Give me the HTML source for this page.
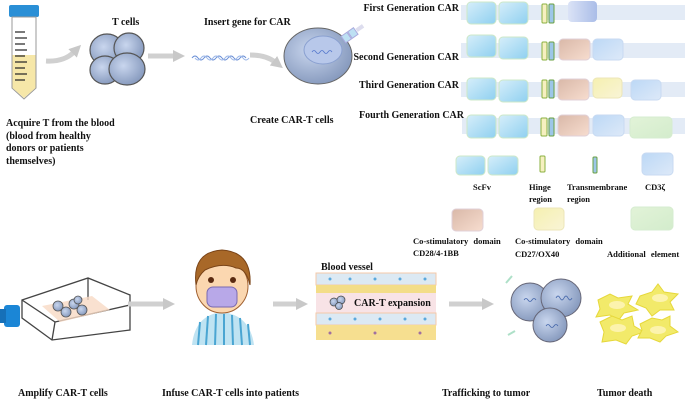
<!DOCTYPE html>
<html><head><meta charset="utf-8">
<style>
html,body{margin:0;padding:0;background:#fff;}
svg{display:block;}
text{font-family:"Liberation Serif",serif;font-weight:bold;fill:#111;font-size:10px;}
</style></head>
<body>
<svg width="685" height="400" viewBox="0 0 685 400" xmlns="http://www.w3.org/2000/svg">
<defs>
<linearGradient id="scfv" x1="0" y1="0" x2="1" y2="1"><stop offset="0" stop-color="#d6eefa"/><stop offset="1" stop-color="#8fd0f0"/></linearGradient>
<linearGradient id="brown" x1="0" y1="0" x2="1" y2="1"><stop offset="0" stop-color="#d9b8a8"/><stop offset="1" stop-color="#f7ddcf"/></linearGradient>
<linearGradient id="blue2" x1="0" y1="0" x2="1" y2="1"><stop offset="0" stop-color="#bcd8f6"/><stop offset="1" stop-color="#dde9f8"/></linearGradient>
<linearGradient id="yel" x1="0" y1="0" x2="1" y2="1"><stop offset="0" stop-color="#f5f0b0"/><stop offset="1" stop-color="#f9f4d6"/></linearGradient>
<linearGradient id="grn" x1="0" y1="0" x2="1" y2="1"><stop offset="0" stop-color="#e2f3d8"/><stop offset="1" stop-color="#d3eccc"/></linearGradient>
<linearGradient id="purp" x1="0" y1="0" x2="1" y2="0"><stop offset="0" stop-color="#dbe3f6"/><stop offset="1" stop-color="#aabde8"/></linearGradient>
<radialGradient id="cell" cx="0.4" cy="0.4" r="0.7"><stop offset="0" stop-color="#c9d6ee"/><stop offset="1" stop-color="#7f93b8"/></radialGradient>
<marker id="ah" markerWidth="12" markerHeight="12" refX="2" refY="6" orient="auto" markerUnits="userSpaceOnUse"><path d="M0,0 L12,6 L0,12 z" fill="#c8c8c8"/></marker>
</defs>

<!-- Tube -->
<rect x="9" y="5" width="30" height="12" rx="2" fill="#2a8fd6"/>
<path d="M12,17 H36 V88 L24,99 L12,88 Z" fill="#fff" stroke="#999" stroke-width="1"/>
<path d="M12.5,55 H35.5 V88 L24,98 L12.5,88 Z" fill="#f6e7a8"/>
<g stroke="#222" stroke-width="1.2">
<line x1="15" y1="32" x2="25" y2="32"/><line x1="15" y1="38" x2="27" y2="38"/><line x1="15" y1="44" x2="25" y2="44"/><line x1="15" y1="50" x2="27" y2="50"/><line x1="15" y1="56" x2="25" y2="56"/><line x1="15" y1="62" x2="27" y2="62"/><line x1="15" y1="68" x2="25" y2="68"/><line x1="15" y1="74" x2="27" y2="74"/><line x1="15" y1="80" x2="25" y2="80"/>
</g>
<!-- arrows top -->
<path d="M46,61 Q64,62 74,52" stroke="#d0d0d0" stroke-width="5" fill="none" marker-end="url(#ah)"/>
<line x1="148" y1="56" x2="175" y2="56" stroke="#d0d0d0" stroke-width="5" marker-end="url(#ah)"/>
<path d="M250,55 Q266,55 275,62" stroke="#d0d0d0" stroke-width="5" fill="none" marker-end="url(#ah)"/>
<!-- T cells -->
<g stroke="#555" stroke-width="1.2" fill="url(#cell)">
<ellipse cx="107" cy="50" rx="17" ry="16"/><ellipse cx="129" cy="48" rx="15" ry="15"/>
<ellipse cx="105" cy="70" rx="15" ry="14"/><ellipse cx="127" cy="69" rx="18" ry="16"/>
</g>
<text x="112" y="25">T cells</text>
<!-- DNA -->
<path d="M192,58 q3,-4 6,0 t6,0 t6,0 t6,0 t6,0 t6,0 t6,0 t6,0 t6,0" stroke="#6b8fd6" stroke-width="1" fill="none"/>
<path d="M195,58 q3,4 6,0 t6,0 t6,0 t6,0 t6,0 t6,0 t6,0 t6,0 t6,0" stroke="#9db8e8" stroke-width="1" fill="none"/>
<text x="204" y="25">Insert gene for CAR</text>
<!-- CAR-T cell -->
<ellipse cx="318" cy="56" rx="34" ry="28" fill="url(#cell)" stroke="#666"/>
<ellipse cx="323" cy="50" rx="19" ry="14" fill="#b8c8ea" stroke="#8aa0d0"/>
<path d="M312,52 q2,-3 4,0 t4,0 t4,0 t4,0 t4,0" stroke="#5577cc" fill="none" stroke-width="0.8"/>
<g transform="rotate(-35 350 35)"><rect x="342" y="31" width="7" height="8" fill="#bde0f3" stroke="#aad"/><rect x="350" y="31" width="7" height="8" fill="#bde0f3" stroke="#aad"/><rect x="358" y="33" width="8" height="4" fill="#dde"/></g>
<text x="250" y="123">Create CAR-T cells</text>
<text x="6" y="126">Acquire T from the blood</text>
<text x="6" y="139">(blood from healthy</text>
<text x="6" y="151">donors or patients</text>
<text x="6" y="164">themselves)</text>

<!-- CAR rows -->
<g>
<rect x="461" y="5" width="224" height="15" fill="#e3ebf6"/>
<rect x="467" y="2" width="29" height="22" rx="4" fill="url(#scfv)" stroke="#cde8c8"/>
<rect x="499" y="2" width="29" height="22" rx="4" fill="url(#scfv)" stroke="#cde8c8"/>
<rect x="542" y="4" width="5" height="19" rx="1" fill="#f6f0c0" stroke="#8ab040"/>
<rect x="549" y="4" width="5" height="19" rx="1" fill="#9cc6e8" stroke="#6aa040"/>
<rect x="568" y="1" width="29" height="21" rx="4" fill="url(#purp)"/>
<text x="459" y="11" text-anchor="end">First Generation CAR</text>
</g>
<g>
<rect x="461" y="43" width="224" height="15" fill="#e3ebf6"/>
<rect x="467" y="35" width="29" height="22" rx="4" fill="url(#scfv)" stroke="#cde8c8"/>
<rect x="499" y="37" width="29" height="22" rx="4" fill="url(#scfv)" stroke="#cde8c8"/>
<rect x="542" y="42" width="5" height="18" rx="1" fill="#f6f0c0" stroke="#8ab040"/>
<rect x="549" y="42" width="5" height="18" rx="1" fill="#9cc6e8" stroke="#6aa040"/>
<rect x="559" y="39" width="31" height="21" rx="4" fill="url(#brown)" stroke="#e0d0d8"/>
<rect x="593" y="39" width="30" height="21" rx="4" fill="url(#blue2)" stroke="#c8daf2"/>
<text x="459" y="60" text-anchor="end">Second Generation CAR</text>
</g>
<g>
<rect x="461" y="82" width="224" height="15" fill="#e3ebf6"/>
<rect x="467" y="78" width="29" height="22" rx="4" fill="url(#scfv)" stroke="#cde8c8"/>
<rect x="499" y="80" width="29" height="22" rx="4" fill="url(#scfv)" stroke="#cde8c8"/>
<rect x="542" y="80" width="5" height="18" rx="1" fill="#f6f0c0" stroke="#8ab040"/>
<rect x="549" y="80" width="5" height="18" rx="1" fill="#9cc6e8" stroke="#6aa040"/>
<rect x="558" y="79" width="31" height="21" rx="4" fill="url(#brown)" stroke="#e0d0d8"/>
<rect x="593" y="78" width="29" height="20" rx="4" fill="url(#yel)" stroke="#ece6b8"/>
<rect x="631" y="80" width="30" height="20" rx="4" fill="url(#blue2)" stroke="#c8daf2"/>
<text x="459" y="88" text-anchor="end">Third Generation CAR</text>
</g>
<g>
<rect x="462" y="118" width="223" height="16" fill="#e3ebf6"/>
<rect x="467" y="115" width="29" height="23" rx="4" fill="url(#scfv)" stroke="#cde8c8"/>
<rect x="499" y="115" width="29" height="23" rx="4" fill="url(#scfv)" stroke="#cde8c8"/>
<rect x="541" y="118" width="6" height="18" rx="1" fill="#f6f0c0" stroke="#8ab040"/>
<rect x="549" y="118" width="5" height="18" rx="1" fill="#9cc6e8" stroke="#6aa040"/>
<rect x="558" y="115" width="31" height="21" rx="4" fill="url(#brown)" stroke="#e0d0d8"/>
<rect x="593" y="115" width="31" height="21" rx="4" fill="url(#blue2)" stroke="#c8daf2"/>
<rect x="630" y="117" width="42" height="21" rx="4" fill="url(#grn)" stroke="#d6ecd0"/>
<text x="464" y="118" text-anchor="end">Fourth Generation CAR</text>
</g>

<!-- Legend -->
<rect x="456" y="156" width="29" height="19" rx="4" fill="url(#scfv)" stroke="#cde8c8"/>
<rect x="488" y="156" width="30" height="19" rx="4" fill="url(#scfv)" stroke="#cde8c8"/>
<rect x="540" y="156" width="5" height="16" rx="1" fill="#f6f0c0" stroke="#8ab040"/>
<rect x="593" y="157" width="4" height="16" rx="1" fill="#9cc6e8" stroke="#6aa040"/>
<rect x="642" y="153" width="31" height="22" rx="4" fill="url(#blue2)" stroke="#c8daf2"/>
<text x="473" y="190" style="font-size:8.5px">ScFv</text>
<text x="529" y="190" style="font-size:8.5px">Hinge</text>
<text x="529" y="202" style="font-size:8.5px">region</text>
<text x="567" y="190" style="font-size:8.5px">Transmembrane</text>
<text x="567" y="202" style="font-size:8.5px">region</text>
<text x="645" y="190" style="font-size:8.5px">CD3ζ</text>
<rect x="452" y="209" width="31" height="22" rx="4" fill="url(#brown)" stroke="#e0d0d8"/>
<rect x="534" y="208" width="30" height="22" rx="4" fill="url(#yel)" stroke="#ece6b8"/>
<rect x="631" y="207" width="42" height="23" rx="4" fill="url(#grn)" stroke="#d6ecd0"/>
<text x="413" y="244" style="font-size:8.5px;word-spacing:3px">Co-stimulatory domain</text>
<text x="413" y="256" style="font-size:8.5px">CD28/4-1BB</text>
<text x="515" y="244" style="font-size:8.5px;word-spacing:3px">Co-stimulatory domain</text>
<text x="515" y="257" style="font-size:8.5px">CD27/OX40</text>
<text x="607" y="257" style="font-size:8.5px;word-spacing:3px">Additional element</text>

<!-- Flask -->
<g stroke="#444" stroke-width="1.3" fill="none">
<path d="M22,300 L88,278 L130,295 L130,330 L52,340 L22,318 Z"/>
<line x1="22" y1="300" x2="55" y2="322"/><line x1="55" y1="322" x2="130" y2="305"/><line x1="55" y1="322" x2="52" y2="340"/>
<line x1="88" y1="278" x2="88" y2="300"/>
</g>
<path d="M42,306 L92,296 L110,310 L60,322 Z" fill="#f8d9c4" opacity="0.8"/>
<g fill="url(#cell)" stroke="#555" stroke-width="0.8">
<circle cx="58" cy="306" r="5"/><circle cx="66" cy="312" r="5"/><circle cx="74" cy="304" r="5"/><circle cx="82" cy="310" r="5"/><circle cx="78" cy="300" r="4"/>
</g>
<rect x="4" y="305" width="16" height="22" rx="3" fill="#1b86d6"/>
<rect x="0" y="309" width="6" height="14" fill="#1670b8"/>
<line x1="128" y1="304" x2="165" y2="304" stroke="#d0d0d0" stroke-width="5" marker-end="url(#ah)"/>

<!-- Boy -->
<path d="M192,345 Q195,315 222,312 Q250,315 254,345 Z" fill="#bfe3f2"/>
<g stroke="#4aa5d2" stroke-width="2"><line x1="200" y1="322" x2="198" y2="345"/><line x1="208" y1="316" x2="206" y2="345"/><line x1="216" y1="314" x2="215" y2="345"/><line x1="224" y1="314" x2="224" y2="345"/><line x1="232" y1="315" x2="233" y2="345"/><line x1="240" y1="318" x2="242" y2="345"/><line x1="248" y1="324" x2="250" y2="345"/></g>
<ellipse cx="222" cy="286" rx="26" ry="27" fill="#fbd7b0" stroke="#a06030"/>
<path d="M196,285 Q192,252 222,250 Q252,252 250,285 Q246,268 236,268 Q222,262 205,270 Q198,276 196,285 Z" fill="#a86828" stroke="#7a4418"/>
<circle cx="211" cy="280" r="3" fill="#5a2a10"/><circle cx="233" cy="280" r="3" fill="#5a2a10"/>
<rect x="207" y="287" width="30" height="20" rx="6" fill="#b8a8e8" stroke="#7a6ab0"/>
<line x1="273" y1="304" x2="298" y2="304" stroke="#d0d0d0" stroke-width="5" marker-end="url(#ah)"/>

<!-- Blood vessel -->
<text x="321" y="270">Blood vessel</text>
<rect x="316" y="273" width="120" height="68" fill="#fff"/>
<rect x="316" y="273" width="120" height="12" fill="#dce9f3" stroke="#f4c9a8"/>
<rect x="316" y="285" width="120" height="8" fill="#f3dd88"/>
<rect x="316" y="293" width="120" height="20" fill="#f8e3e6"/>
<rect x="316" y="313" width="120" height="12" fill="#dce9f3" stroke="#f4c9a8"/>
<rect x="316" y="325" width="120" height="15" fill="#f6df90"/>
<g fill="#5aa8dc"><circle cx="330" cy="279" r="1.5"/><circle cx="350" cy="279" r="1.5"/><circle cx="375" cy="279" r="1.5"/><circle cx="400" cy="279" r="1.5"/><circle cx="425" cy="279" r="1.5"/><circle cx="330" cy="319" r="1.5"/><circle cx="355" cy="319" r="1.5"/><circle cx="380" cy="319" r="1.5"/><circle cx="405" cy="319" r="1.5"/><circle cx="425" cy="319" r="1.5"/></g>
<g fill="#a070a0"><circle cx="330" cy="333" r="1.5"/><circle cx="375" cy="333" r="1.5"/><circle cx="420" cy="333" r="1.5"/></g>
<g fill="url(#cell)" stroke="#444" stroke-width="0.7"><circle cx="334" cy="302" r="4"/><circle cx="341" cy="300" r="4"/><circle cx="339" cy="306" r="3.5"/></g>
<text x="354" y="306">CAR-T expansion</text>
<line x1="449" y1="304" x2="484" y2="304" stroke="#d0d0d0" stroke-width="5" marker-end="url(#ah)"/>

<!-- Trafficking cells -->
<g fill="url(#cell)" stroke="#667" stroke-width="1">
<ellipse cx="530" cy="302" rx="19" ry="19"/><ellipse cx="561" cy="298" rx="20" ry="19"/><ellipse cx="550" cy="325" rx="17" ry="17"/>
</g>
<g stroke="#4466aa" fill="none" stroke-width="0.8"><path d="M524,300 q2,-3 4,0 t4,0 t4,0"/><path d="M556,298 q2,-4 4,0 t4,0 t4,0 t4,0"/><path d="M546,326 q2,-3 4,0 t4,0 t4,0"/></g>
<g stroke="#aee0c8" stroke-width="2"><line x1="506" y1="283" x2="512" y2="276"/><line x1="508" y1="335" x2="515" y2="331"/></g>

<!-- Tumor death -->
<g fill="#f2ea6a" stroke="#e6d83a" stroke-width="1">
<path d="M598,300 l12,-6 l8,4 l14,-2 l-4,8 l10,6 l-14,3 l-6,8 l-8,-6 l-14,2 l4,-8 z"/>
<path d="M640,296 l12,-4 l6,-8 l6,8 l14,2 l-8,8 l4,8 l-14,0 l-8,6 l-6,-8 l-10,-4 z"/>
<path d="M600,322 l12,-6 l10,4 l10,-4 l2,10 l10,6 l-12,4 l-6,8 l-10,-4 l-14,2 l2,-10 z"/>
<path d="M640,324 l12,-6 l10,2 l8,-4 l0,10 l8,6 l-12,4 l-6,6 l-10,-4 l-12,0 l4,-8 z"/>
</g>
<g fill="#fff6c0" opacity="0.8"><ellipse cx="617" cy="305" rx="8" ry="4"/><ellipse cx="660" cy="298" rx="8" ry="4"/><ellipse cx="618" cy="328" rx="8" ry="4"/><ellipse cx="658" cy="330" rx="8" ry="4"/></g>

<!-- bottom labels -->
<text x="18" y="396">Amplify CAR-T cells</text>
<text x="162" y="396">Infuse CAR-T cells into patients</text>
<text x="442" y="396">Trafficking to tumor</text>
<text x="597" y="396">Tumor death</text>
</svg>
</body></html>
